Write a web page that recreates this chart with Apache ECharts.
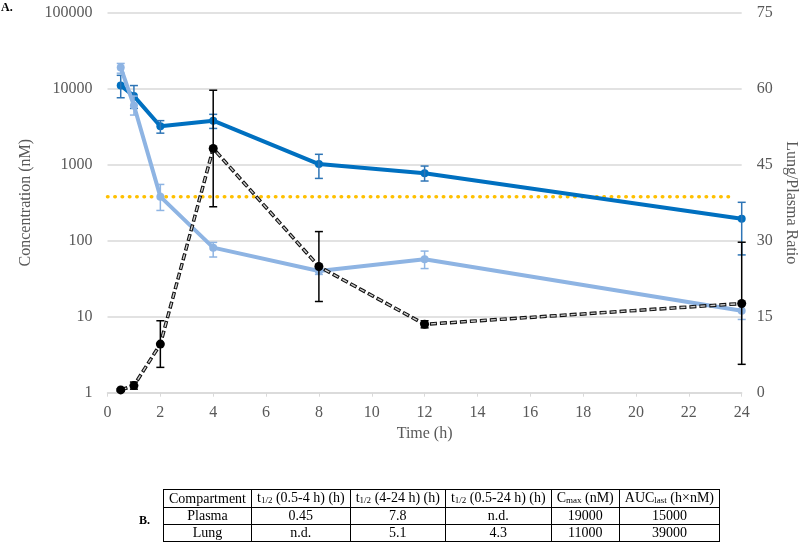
<!DOCTYPE html>
<html>
<head>
<meta charset="utf-8">
<script src="https://cdn.jsdelivr.net/npm/echarts@6/dist/echarts.min.js"></script>
<style>
  html, body { margin: 0; padding: 0; background: #fff; overflow: hidden; }
  #chart { position: absolute; left: 0; top: 0; width: 799px; height: 547px; }
  #tbl { position: absolute; left: 163px; top: 489px; border-collapse: collapse;
         font-family: "Liberation Serif", serif; font-size: 14px; color: #000; }
  #tbl td { border: 1px solid #000; padding: 0 5px; height: 16px; line-height: 16px; text-align: center; white-space: nowrap; }
  #tbl sub { font-size: 9px; vertical-align: baseline; position: relative; top: 1px; }
  #lblB { position: absolute; left: 139px; top: 513px; font-family: "Liberation Serif", serif; font-weight: bold; font-size: 12px; }
</style>
</head>
<body>
<div id="chart"></div>
<div id="lblB">B.</div>
<table id="tbl"></table>
<script>
// ---- data ----
const times = [0.5, 1, 2, 4, 8, 12, 24];
const lungMean  = [11000, 8000, 3200, 3800, 1020, 770, 195];
const lungLow   = [7600, 5500, 2600, 3000, 660, 610, 65];
const lungHigh  = [15000, 11000, 3800, 4600, 1370, 960, 320];
const plasmaMean = [19000, 6000, 380, 81, 40, 57, 12];
const plasmaLow  = [16000, 4500, 250, 61, 36, 43, 9.2];
const plasmaHigh = [21500, 8000, 550, 95, 45, 73, 15];
const ratioMean = [0.55, 1.4, 9.6, 48.2, 24.9, 13.5, 17.6];
const ratioLow  = [0.3, 0.7, 5.0, 36.7, 18.0, 12.8, 5.6];
const ratioHigh = [0.8, 2.1, 14.2, 59.7, 31.8, 14.2, 29.7];
const thresholdValue = 380;
const thresholdRange = [0, 23.7];

const tableHeader = ['Compartment', 't<sub>1/2</sub> (0.5-4 h) (h)', 't<sub>1/2</sub> (4-24 h) (h)', 't<sub>1/2</sub> (0.5-24 h) (h)', 'C<sub>max</sub> (nM)', 'AUC<sub>last</sub> (h×nM)'];
const tablePlasma = ['Plasma', '0.45', '7.8', 'n.d.', '19000', '15000'];
const tableLung = ['Lung', 'n.d.', '5.1', '4.3', '11000', '39000'];

// ---- table ----
const tbl = document.getElementById('tbl');
[tableHeader, tablePlasma, tableLung].forEach(row => {
  const tr = document.createElement('tr');
  row.forEach(c => { const td = document.createElement('td'); td.innerHTML = c; tr.appendChild(td); });
  tbl.appendChild(tr);
});

// ---- chart ----
const FONT = 'Liberation Serif';
const TXT = '#595959';
const DARK = '#0070C0';
const LIGHT = '#8EB4E3';

function pairs(ys) { return times.map((t, i) => [t, ys[i]]); }
function triples(lo, hi) { return times.map((t, i) => [t, lo[i], hi[i]]); }

function errSeries(lo, hi, color, yAxisIndex, width, z) {
  return {
    type: 'custom', yAxisIndex: yAxisIndex, z: z, silent: true,
    encode: { x: 0, y: [1, 2] },
    data: triples(lo, hi),
    renderItem: function (params, api) {
      const x = api.value(0);
      const p1 = api.coord([x, api.value(1)]);
      const p2 = api.coord([x, api.value(2)]);
      const cap = 4;
      const st = { stroke: color, lineWidth: width };
      return { type: 'group', children: [
        { type: 'line', shape: { x1: p1[0], y1: p1[1], x2: p2[0], y2: p2[1] }, style: st },
        { type: 'line', shape: { x1: p1[0] - cap, y1: p1[1], x2: p1[0] + cap, y2: p1[1] }, style: st },
        { type: 'line', shape: { x1: p2[0] - cap, y1: p2[1], x2: p2[0] + cap, y2: p2[1] }, style: st }
      ]};
    }
  };
}

const chart = echarts.init(document.getElementById('chart'), null, { renderer: 'canvas' });
chart.setOption({
  animation: false,
  backgroundColor: '#fff',
  textStyle: { fontFamily: FONT },
  graphic: [{ type: 'text', left: 1, top: 2, style: { text: 'A.', font: 'bold 12px "Liberation Serif"', fill: '#000' } }],
  grid: { left: 107.5, right: 57.3, top: 12.7, bottom: 154.3, containLabel: false, outerBoundsMode: 'none' },
  xAxis: {
    type: 'value', min: 0, max: 24, interval: 2,
    name: 'Time (h)', nameLocation: 'middle', nameGap: 25,
    nameTextStyle: { color: TXT, fontSize: 16, fontFamily: FONT },
    axisLine: { show: true, lineStyle: { color: '#d9d9d9', width: 1.5 } },
    axisTick: { show: true, length: 4, lineStyle: { color: '#d9d9d9' } },
    axisLabel: { color: TXT, fontSize: 16, fontFamily: FONT, margin: 12 },
    splitLine: { show: false }
  },
  yAxis: [{
    type: 'log', logBase: 10, min: 1, max: 100000,
    name: 'Concentration (nM)', nameLocation: 'middle', nameGap: 58,
    nameTextStyle: { color: TXT, fontSize: 16, fontFamily: FONT },
    axisLine: { show: false }, axisTick: { show: false },
    axisLabel: { color: TXT, fontSize: 16, fontFamily: FONT, margin: 15, formatter: v => String(Math.round(v)) },
    splitLine: { show: true, lineStyle: { color: '#d9d9d9', width: 1.5 } }
  }, {
    type: 'value', min: 0, max: 75, interval: 15, position: 'right',
    name: 'Lung/Plasma Ratio', nameLocation: 'middle', nameGap: 40, nameRotate: -90,
    nameTextStyle: { color: TXT, fontSize: 16, fontFamily: FONT },
    axisLine: { show: false }, axisTick: { show: false },
    axisLabel: { color: TXT, fontSize: 16, fontFamily: FONT, margin: 15 },
    splitLine: { show: false }
  }],
  series: [
    {
      type: 'line', yAxisIndex: 0, z: 2, symbol: 'none', silent: true,
      data: thresholdRange.map(x => [x, thresholdValue]),
      lineStyle: { color: '#FFC000', width: 3.5, type: [0.5, 6.8], cap: 'round' }
    },
    {
      type: 'line', yAxisIndex: 0, z: 3, data: pairs(lungMean),
      symbol: 'circle', symbolSize: 8, itemStyle: { color: DARK },
      lineStyle: { color: DARK, width: 4 }
    },
    errSeries(lungLow, lungHigh, '#2E75B6', 0, 1.5, 4),
    {
      type: 'line', yAxisIndex: 0, z: 5, data: pairs(plasmaMean),
      symbol: 'circle', symbolSize: 8, itemStyle: { color: LIGHT },
      lineStyle: { color: LIGHT, width: 4 }
    },
    errSeries(plasmaLow, plasmaHigh, LIGHT, 0, 1.5, 6),
    errSeries(ratioLow, ratioHigh, '#000', 1, 1.5, 7),
    {
      type: 'line', yAxisIndex: 1, z: 8, data: pairs(ratioMean),
      symbol: 'none', lineStyle: { color: '#111', width: 3.5, type: [7, 3] }
    },
    {
      type: 'line', yAxisIndex: 1, z: 9, data: pairs(ratioMean),
      symbol: 'circle', symbolSize: 9, itemStyle: { color: '#000' },
      lineStyle: { color: '#cfcfcf', width: 1.4, type: [5, 5], dashOffset: -1 }
    }
  ]
});
</script>
</body>
</html>
